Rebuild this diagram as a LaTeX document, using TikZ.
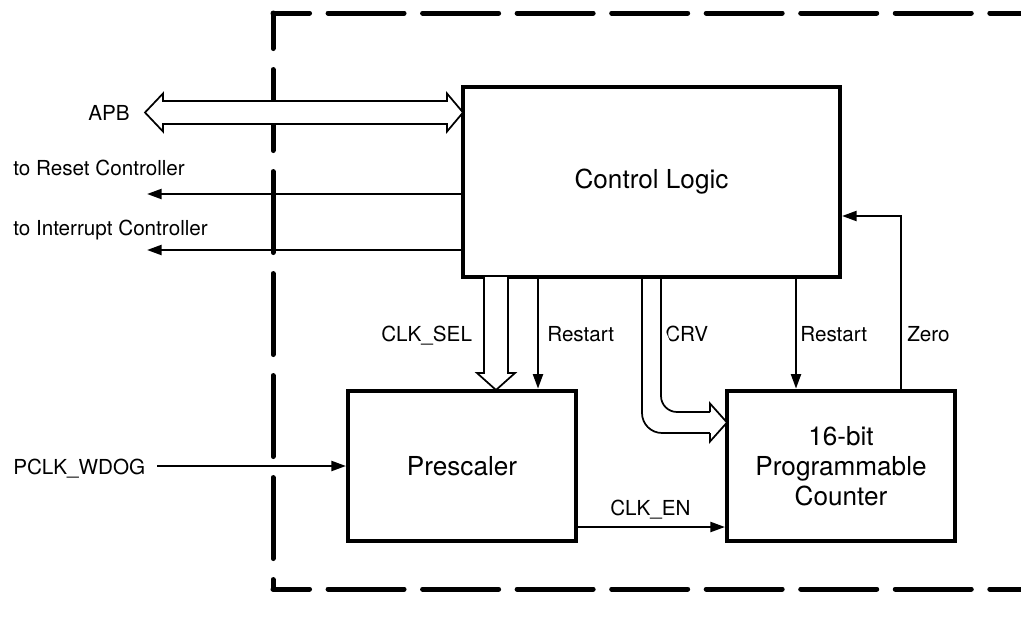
\documentclass[tikz,border=0pt]{standalone}
\usepackage{fontspec}
\setmainfont{TeX Gyre Heros}
\usetikzlibrary{arrows.meta,positioning}
\tikzset{
  block/.style={draw=black, line width=3pt, minimum width=171pt, minimum height=113pt, align=center, font=\fontsize{19.6}{22.5}\selectfont},
  lbl/.style={inner sep=0pt, anchor=base west, font=\fontsize{15.5}{18}\selectfont},
  sig/.style={-{Triangle[length=11pt, width=7.5pt]}, line width=1.7pt, draw=black},
  bus/.style={line width=1.3pt, draw=black, fill=white, line join=miter},
  frameh/.style={line width=3.75pt, line cap=round, dash pattern=on 57pt off 13.9pt, dash phase=29.6pt},
  framev/.style={line width=3.75pt, line cap=round, dash pattern=on 60.75pt off 15.75pt, dash phase=34.1pt}
}
\begin{document}
\begin{tikzpicture}[x=0.75pt, y=-0.75pt]
  \useasboundingbox (0,0) rectangle (1021,621);

  \draw[frameh] (273,13) -- (1030,13);
  \draw[framev] (273,13) -- (273,589);
  \draw[frameh] (273,589) -- (1030,589);

  \node[block, minimum width=282.75pt, minimum height=142.5pt] (ctrl) at (651.5,182) {Control Logic};
  \node[block] (pre) at (462,466) {Prescaler};
  \node[block] (cnt) at (841,466) {16-bit\\Programmable\\Counter};

  \node[lbl] (apb) at (88,120) {APB};
  \node[lbl] (rstlbl) at (13,175) {to Reset Controller};
  \node[lbl] (irqlbl) at (13,235) {to Interrupt Controller};
  \node[lbl] (pclk) at (13,474) {PCLK\_WDOG};
  \node[lbl] (sellbl) at (381,341.5) {CLK\_SEL};
  \node[lbl] (rsAlbl) at (547,341.5) {Restart};
  \node[lbl] (crvlbl) at (665,341.5) {CRV};
  \node[lbl] (rsBlbl) at (800,341.5) {Restart};
  \node[lbl] (zerolbl) at (907,341.5) {Zero};
  \node[lbl] (enlbl) at (610,515) {CLK\_EN};

  \coordinate (rstend) at (147,194);
  \coordinate (irqend) at (147,250);
  \coordinate (pclkin) at (157,466);
  \coordinate (rsA) at (538,0);
  \coordinate (rsB) at (796,0);
  \coordinate (zr) at (901,216);
  \coordinate (en) at (0,527);

  \draw[sig] (ctrl.west |- rstend) -- (rstend);
  \draw[sig] (ctrl.west |- irqend) -- (irqend);
  \draw[sig] (pclkin) -- (pre.west);
  \draw[sig] (ctrl.south -| rsA) -- (pre.north -| rsA);
  \draw[sig] (ctrl.south -| rsB) -- (cnt.north -| rsB);
  \draw[sig] (cnt.north -| zr) |- (ctrl.east |- zr);
  \draw[sig] (pre.east |- en) -- (cnt.west |- en);

  \draw[bus] (145,112.5) -- (163,93.5) -- (163,101) -- (447,101) -- (447,93.5) -- (463,112.5)
    -- (447,131.5) -- (447,124) -- (163,124) -- (163,131.5) -- cycle;
  \draw[bus] (484,277) -- (484,373) -- (477,373) -- (496,390) -- (515,373) -- (508,373) -- (508,277);
  \draw[bus, rounded corners=15pt] (642,277) -- (642,433) -- (710,433);
  \draw[bus, fill=none, rounded corners=12pt] (661,277) -- (661,412) -- (710,412);
  \draw[bus] (710,412) -- (710,403.5) -- (727,422.5) -- (710,441.5) -- (710,433);
\end{tikzpicture}
\end{document}
